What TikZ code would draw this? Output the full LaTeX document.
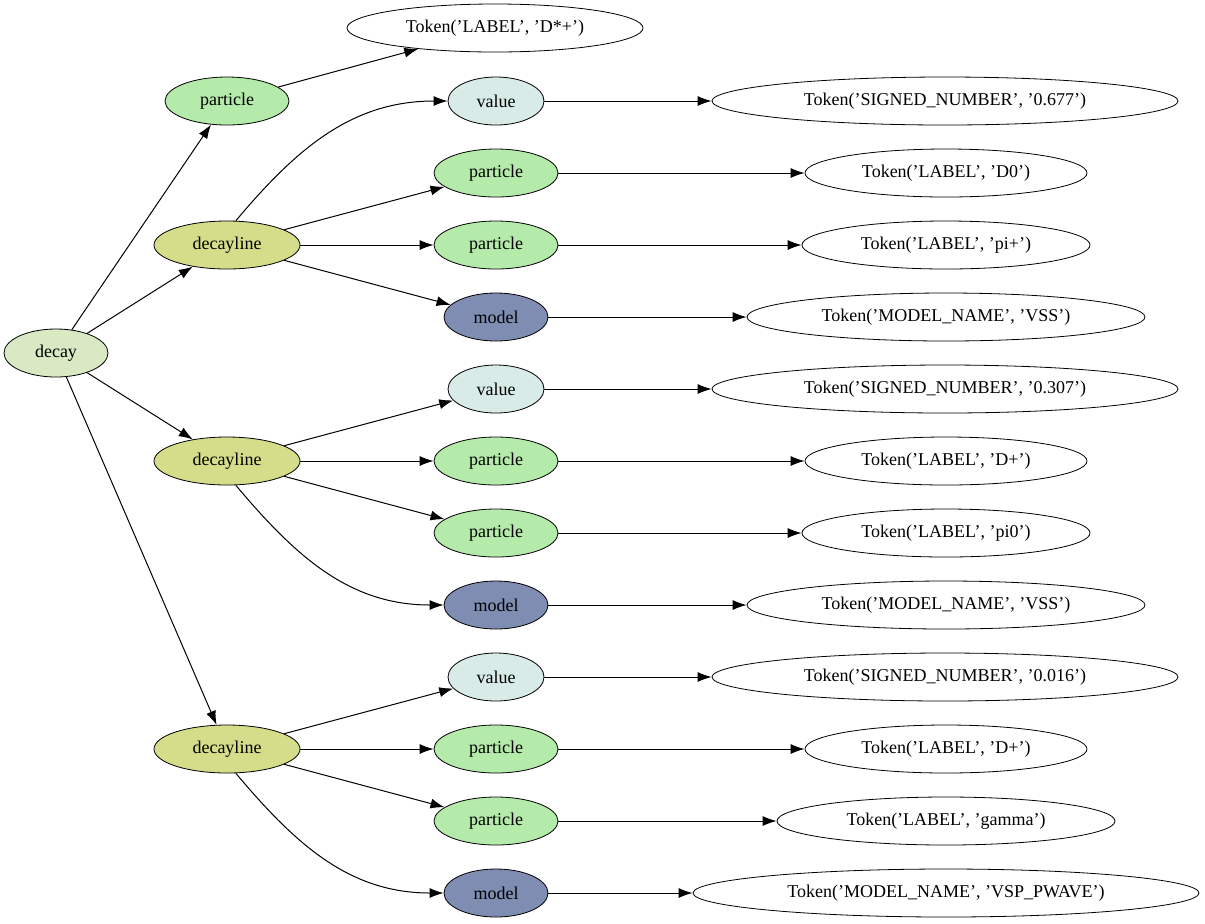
\documentclass[tikz,border=0pt]{standalone}
\usepackage{fontspec}
\setmainfont{Liberation Serif}
\usetikzlibrary{shapes.geometric,arrows.meta}
\definecolor{cdecay}{RGB}{216,233,196}
\definecolor{cpart}{RGB}{180,234,170}
\definecolor{cline}{RGB}{213,221,139}
\definecolor{cval}{RGB}{216,235,230}
\definecolor{cmodel}{RGB}{128,141,178}
\tikzset{
  nd/.style={draw,ellipse,inner sep=0pt,minimum height=24pt,font=\fontsize{9}{11}\selectfont},
  tok/.style={nd,fill=white},
  edge/.style={-{Latex[length=7pt,width=5pt]},line width=0.5pt}
}
\begin{document}
\begin{tikzpicture}[x=0.5pt,y=0.5pt]
\useasboundingbox (0,0) rectangle (1205,-923);
\node[nd,fill=cdecay,minimum width=52pt] (decay) at (56,-353) {decay};
\node[nd,fill=cpart,minimum width=62pt] (p0) at (227,-101) {particle};
\node[tok,minimum width=148pt] (t0) at (495,-28) {Token('LABEL', 'D*+')};
\draw[edge] (p0) -- (t0);
\draw[edge] (decay) -- (p0);
% three decay lines: line row / first child row
\foreach \i/\y/\v/\ta/\tb/\tc/\td/\sa/\sb/\sc/\sd in {
  1/245/101/{Token('SIGNED\_NUMBER', '0.677')}/{Token('LABEL', 'D0')}/{Token('LABEL', 'pi+')}/{Token('MODEL\_NAME', 'VSS')}/233/141/144/199,
  2/461/389/{Token('SIGNED\_NUMBER', '0.307')}/{Token('LABEL', 'D+')}/{Token('LABEL', 'pi0')}/{Token('MODEL\_NAME', 'VSS')}/233/141/144/199,
  3/749/677/{Token('SIGNED\_NUMBER', '0.016')}/{Token('LABEL', 'D+')}/{Token('LABEL', 'gamma')}/{Token('MODEL\_NAME', 'VSP\_PWAVE')}/233/141/169/253}{
  \node[nd,fill=cline,minimum width=73pt] (dl\i) at (227,-\y) {decayline};
  \node[nd,fill=cval,minimum width=48pt] (v\i) at (496,-\v) {value};
  \node[nd,fill=cpart,minimum width=62pt] (pa\i) at (496,-\v-72) {particle};
  \node[nd,fill=cpart,minimum width=62pt] (pb\i) at (496,-\v-144) {particle};
  \node[nd,fill=cmodel,minimum width=52pt] (m\i) at (496,-\v-216) {model};
  \node[tok,minimum width=\sa pt] (tv\i) at (945,-\v) {\ta};
  \node[tok,minimum width=\sb pt] (ta\i) at (946,-\v-72) {\tb};
  \node[tok,minimum width=\sc pt] (tb\i) at (946,-\v-144) {\tc};
  \node[tok,minimum width=\sd pt] (tm\i) at (946,-\v-216) {\td};
  \draw[edge] (decay) -- (dl\i);
  \draw[edge] (v\i) -- (tv\i);
  \draw[edge] (pa\i) -- (ta\i);
  \draw[edge] (pb\i) -- (tb\i);
  \draw[edge] (m\i) -- (tm\i);
}
% edges whose shape differs per line
\draw[edge] (dl1.70) to[out=50,in=180] (v1.west);
\draw[edge] (dl1) -- (pa1);
\draw[edge] (dl1) -- (pb1);
\draw[edge] (dl1) -- (m1);
\foreach \i in {2,3}{
  \draw[edge] (dl\i) -- (v\i);
  \draw[edge] (dl\i) -- (pa\i);
  \draw[edge] (dl\i) -- (pb\i);
  \draw[edge] (dl\i.-70) to[out=-50,in=180] (m\i.west);
}
\end{tikzpicture}
\end{document}
